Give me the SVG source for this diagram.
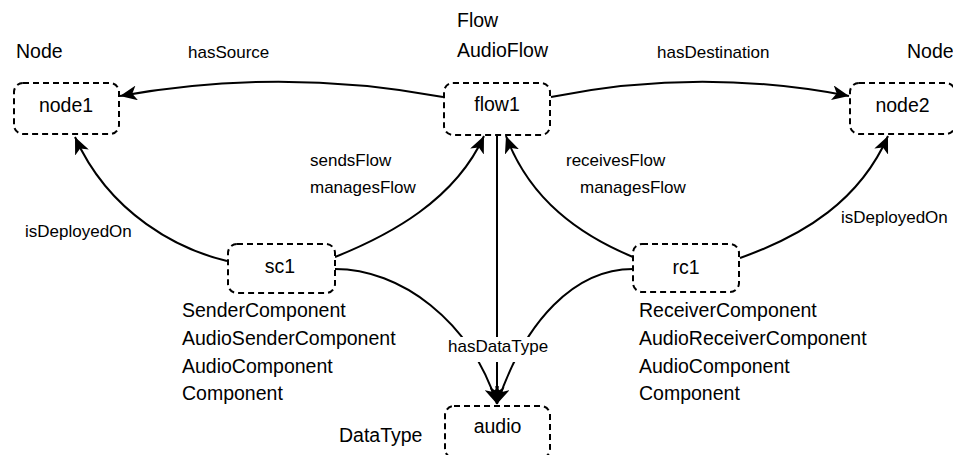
<svg xmlns="http://www.w3.org/2000/svg" width="953" height="455" viewBox="0 0 953 455">
<defs>
<marker id="arr" markerUnits="userSpaceOnUse" markerWidth="18" markerHeight="15" refX="17" refY="7.5" orient="auto">
<path d="M0,0 L17,7.5 L0,15 L4.5,7.5 Z" fill="#000"/>
</marker>
<style>
.box{fill:#fff;stroke:#000;stroke-width:2;stroke-dasharray:6 4}
.lbl{font-family:"Liberation Sans",Arial,sans-serif;font-size:19.5px;fill:#000}
.nl{font-family:"Liberation Sans",Arial,sans-serif;font-size:19.5px;fill:#000;text-anchor:middle}
.el{font-family:"Liberation Sans",Arial,sans-serif;font-size:17px;fill:#000}
.edge{fill:none;stroke:#000;stroke-width:2;marker-end:url(#arr)}
</style>
</defs>
<rect width="953" height="455" fill="#fff"/>
<g id="connectors">
<path class="edge" d="M443,97 Q281,67 120,96"/>
<path class="edge" d="M551,97 Q700,67 849,96"/>
<path class="edge" d="M227,261 C180,250 110,215 75,137"/>
<path class="edge" d="M335,257 C390,235 455,200 484,136"/>
<path class="edge" d="M633,257 C580,235 530,200 506,136"/>
<path class="edge" d="M740,258 C805,235 860,200 888,136"/>
<path class="edge" d="M497,136 L497,404"/>
<path class="edge" d="M335,269 C400,269 470,320 497,404"/>
<path class="edge" d="M633,269 C575,269 525,320 497,404"/>
<rect x="446" y="337" width="107" height="25" fill="#fff"/>
<text class="el" x="448" y="352">hasDataType</text>
<text class="el" x="188" y="58">hasSource</text>
<text class="el" x="657" y="58">hasDestination</text>
<text class="el" x="310" y="166">sendsFlow</text>
<text class="el" x="310" y="193">managesFlow</text>
<text class="el" x="566" y="166">receivesFlow</text>
<text class="el" x="580" y="193">managesFlow</text>
<text class="el" x="25" y="237">isDeployedOn</text>
<text class="el" x="841" y="223">isDeployedOn</text>
</g>
<g id="node1">
<rect class="box" x="14" y="83" width="105" height="51" rx="9"/>
<text class="nl" x="66" y="112">node1</text>
<text class="lbl" x="16" y="58">Node</text>
</g>
<g id="flow1">
<rect class="box" x="444" y="83" width="106" height="52" rx="9"/>
<text class="nl" x="497" y="111">flow1</text>
<text class="lbl" x="457" y="27">Flow</text>
<text class="lbl" x="457" y="57">AudioFlow</text>
</g>
<g id="node2">
<rect class="box" x="850" y="83" width="105" height="51" rx="9"/>
<text class="nl" x="902.5" y="112">node2</text>
<text class="lbl" x="907" y="58">Node</text>
</g>
<g id="sc1">
<rect class="box" x="228" y="244" width="107" height="49" rx="9"/>
<text class="nl" x="280" y="273">sc1</text>
<text class="lbl" x="182" y="317">SenderComponent</text>
<text class="lbl" x="182" y="345">AudioSenderComponent</text>
<text class="lbl" x="182" y="372.5">AudioComponent</text>
<text class="lbl" x="182" y="400">Component</text>
</g>
<g id="rc1">
<rect class="box" x="633" y="244" width="106" height="48" rx="9"/>
<text class="nl" x="686" y="274">rc1</text>
<text class="lbl" x="639" y="317">ReceiverComponent</text>
<text class="lbl" x="639" y="345">AudioReceiverComponent</text>
<text class="lbl" x="639" y="372.5">AudioComponent</text>
<text class="lbl" x="639" y="400">Component</text>
</g>
<g id="audio">
<rect class="box" x="445" y="406" width="105" height="52" rx="9"/>
<text class="nl" x="497.5" y="433">audio</text>
<text class="lbl" x="339" y="442">DataType</text>
</g>
</svg>
